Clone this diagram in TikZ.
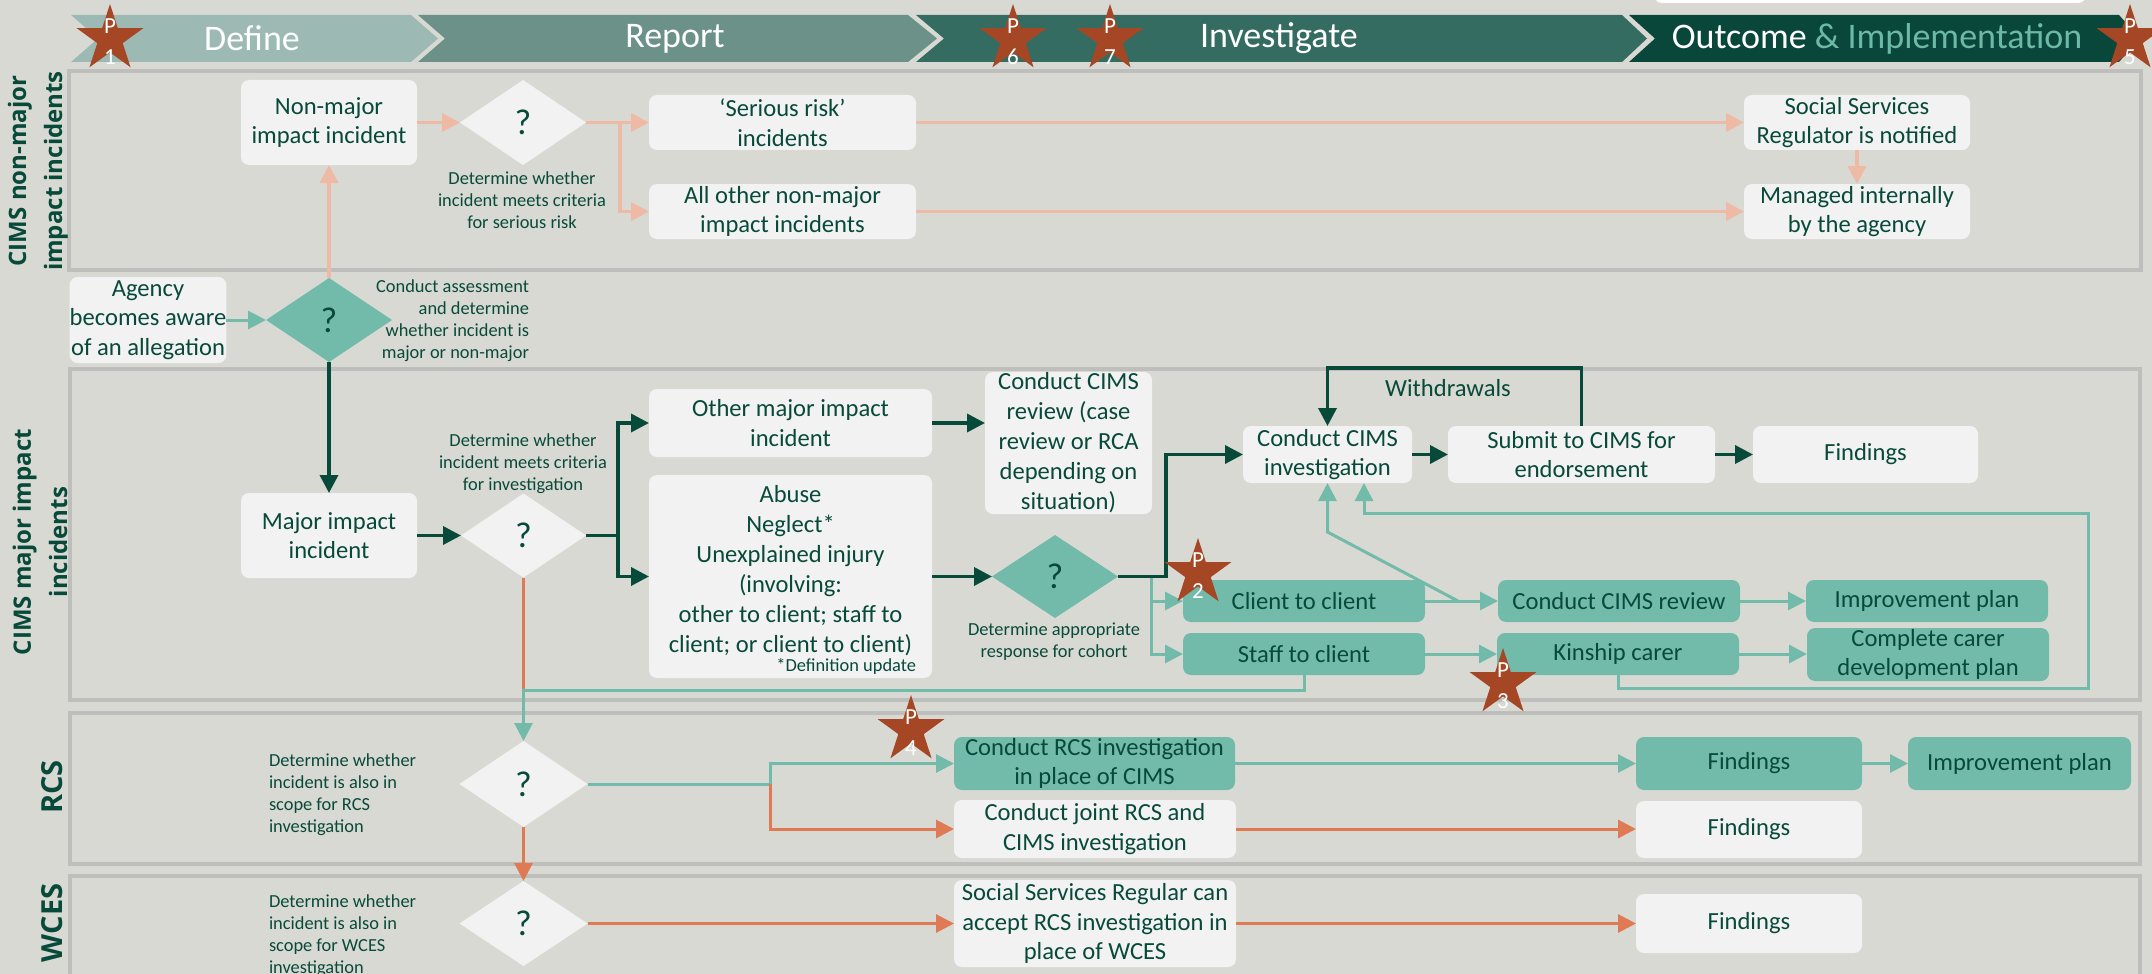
\documentclass[tikz,border=0pt]{standalone}
\usepackage{fontspec}
\setmainfont{Carlito}
\newfontfamily\lanefont{Open Sans}
\usetikzlibrary{shapes.geometric,arrows.meta}
\definecolor{bgc}{RGB}{217,217,212}
\definecolor{laneb}{RGB}{190,190,188}
\definecolor{wfill}{RGB}{242,242,242}
\definecolor{tealc}{RGB}{114,186,169}
\definecolor{dkg}{RGB}{8,74,58}
\definecolor{salm}{RGB}{238,186,166}
\definecolor{orng}{RGB}{224,122,84}
\definecolor{starc}{RGB}{165,70,36}
\definecolor{chA}{RGB}{156,185,179}
\definecolor{chB}{RGB}{107,145,136}
\definecolor{chC}{RGB}{53,108,97}
\definecolor{chD}{RGB}{8,71,58}
\definecolor{implc}{RGB}{109,184,166}
\newcommand\mybox[7]{\node[#2, minimum width={(#5-#3)*0.5pt}, minimum height={(#6-#4)*0.5pt}] (#1) at ({(#3+#5)/2},{(#4+#6)/2}) {#7};}
\newcommand\mydia[6]{\node[#2, minimum width={#5*0.5pt}, minimum height={#6*0.5pt}] (#1) at (#3,#4) {?};}
\newcommand\mystar[4]{\node[starshape] (#1) at (#2,#3) {}; \node[startext] (#1t) at (#2,{#3+2.5}) {P\\#4};}
\tikzset{
  every node/.style={outer sep=0pt},
  wbox/.style={rectangle, rounded corners=4pt, fill=wfill, text=dkg, align=center, inner sep=0pt, font=\fontsize{12.3}{14.8}\selectfont},
  tbox/.style={wbox, fill=tealc},
  wdia/.style={diamond, fill=wfill, text=dkg, inner sep=0pt, font=\fontsize{18}{20}\selectfont},
  tdia/.style={wdia, fill=tealc},
  lbl/.style={text=dkg, font=\fontsize{9.2}{11}\selectfont, inner sep=0pt},
  lanebox/.style={draw=laneb, line width=1.6pt},
  lanelbl/.style={text=dkg, font=\lanefont\bfseries\fontsize{12}{18}\selectfont, rotate=90, align=center, inner sep=0pt},
  hdr/.style={text=white, font=\fontsize{18}{20}\selectfont, inner sep=0pt},
  starshape/.style={star, star points=5, star point ratio=2.618, fill=starc, minimum size=35pt, inner sep=0pt},
  startext/.style={text=white, align=center, font=\fontsize{11.5}{15.5}\selectfont, inner sep=0pt},
  tip/.style={-{Triangle[length=9pt,width=9pt]}},
  sline/.style={draw=salm, line width=1.9pt},
  dline/.style={draw=dkg, line width=1.8pt},
  tline/.style={draw=tealc, line width=1.5pt},
  oline/.style={draw=orng, line width=1.5pt},
}
\begin{document}
\begin{tikzpicture}[x=0.5pt,y=-0.5pt]
\useasboundingbox (0,0) rectangle (2152,974);
\fill[bgc] (0,0) rectangle (2152,974);
\fill[white, rounded corners=4pt] (1654,-20) rectangle (2086,3);
% chevrons
\fill[chA] (71,15) -- (411,15) -- (438,38.5) -- (411,62) -- (71,62) -- (98,38.5) -- cycle;
\fill[chB] (418,15) -- (908,15) -- (937,38.5) -- (908,62) -- (418,62) -- (445,38.5) -- cycle;
\fill[chC] (916,15) -- (1622,15) -- (1647,38.5) -- (1622,62) -- (916,62) -- (944,38.5) -- cycle;
\fill[chD] (1629,15) -- (2119,15) -- (2140,38.5) -- (2119,62) -- (1629,62) -- (1655,38.5) -- cycle;
\node[hdr] (hdefine) at (252,38.5) {Define};
\node[hdr] (hreport) at (675,38.5) {Report};
\node[hdr] (hinv) at (1279,38.5) {Investigate};
\node[hdr] (hout) at (1877,38.5) {Outcome \textcolor{implc}{\& Implementation}};
% lanes
\draw[lanebox] (69,71) rectangle (2141,270);
\draw[lanebox] (70,369) rectangle (2140,700);
\draw[lanebox] (70,713) rectangle (2140,864);
\draw[lanebox] (70,876) rectangle (2140,985);
\node[lanelbl] (ll1) at (38,171) {CIMS non-major\\impact incidents};
\node[lanelbl] (ll2) at (40,542) {CIMS major impact\\incidents};
\node[lanelbl, font=\lanefont\bfseries\fontsize{14.5}{18}\selectfont] (ll3) at (52.5,787) {RCS};
\node[lanelbl, font=\lanefont\bfseries\fontsize{14.5}{18}\selectfont] (ll4) at (52.5,923) {WCES};
% lane 1
\mybox{nonmajor}{wbox}{241}{80}{417}{165}{Non-major\\impact incident}
\mydia{d1}{wdia}{523}{122.5}{126}{85}
\node[lbl, align=center] (lb1) at (522,200) {Determine whether\\incident meets criteria\\for serious risk};
\mybox{serious}{wbox}{649}{95}{916}{150}{‘Serious risk’\\incidents}
\mybox{allother}{wbox}{649}{184}{916}{239}{All other non-major\\impact incidents}
\mybox{ssr}{wbox}{1744}{95}{1970}{150}{Social Services\\Regulator is notified}
\mybox{managed}{wbox}{1744}{184}{1970}{239}{Managed internally\\by the agency}
\mybox{agency}{wbox}{71}{277}{225}{363}{Agency\\becomes aware\\of an allegation}
\mydia{d0}{tdia}{329}{320}{126}{84}
\node[lbl, align=right, anchor=east] (lb0) at (529,321) {Conduct assessment\\and determine\\whether incident is\\major or non-major};
% lane 2
\mybox{major}{wbox}{241}{493}{417}{578}{Major impact\\incident}
\mydia{d2}{wdia}{523.5}{535.5}{125}{84}
\node[lbl, align=center] (lb2) at (523,464) {Determine whether\\incident meets criteria\\for investigation};
\mybox{other}{wbox}{649}{389}{932}{457}{Other major impact\\incident}
\mybox{abuse}{wbox}{649}{475}{932}{678}{}
\node[wbox, fill=none, font=\fontsize{12.3}{15}\selectfont] (abusetxt) at (790.5,571) {Abuse\\Neglect*\\Unexplained injury\\(involving:\\other to client; staff to\\client; or client to client)};
\node[lbl, anchor=east] (defupd) at (916,666) {*Definition update};
\mybox{review}{wbox, font=\fontsize{12.3}{15}\selectfont}{985}{372}{1152}{514}{Conduct CIMS\\review (case\\review or RCA\\depending on\\situation)}
\mydia{d3}{tdia}{1055}{576.5}{126}{83}
\node[lbl, align=center] (lb3) at (1054,642) {Determine appropriate\\response for cohort};
\mybox{c2c}{tbox}{1183}{580}{1425}{622}{Client to client}
\mybox{s2c}{tbox}{1183}{633}{1425}{675}{Staff to client}
\mybox{inv}{wbox}{1243}{426}{1412}{483}{Conduct CIMS\\investigation}
\mybox{submit}{wbox}{1448}{426}{1715}{483}{Submit to CIMS for\\endorsement}
\mybox{find1}{wbox}{1753}{426}{1978}{483}{Findings}
\node[lbl, font=\fontsize{12.3}{14.8}\selectfont] (wd) at (1448,388) {Withdrawals};
\mybox{crev}{tbox}{1498}{580}{1740}{622}{Conduct CIMS review}
\mybox{imp1}{tbox}{1806}{580}{2048}{622}{Improvement plan}
\mybox{kin}{tbox}{1497}{633}{1739}{675}{Kinship carer}
\mybox{carer}{tbox}{1807}{628}{2049}{681}{Complete carer\\development plan}
% lane 3
\mydia{d4}{wdia}{523.5}{784}{128}{86}
\node[lbl, align=left, anchor=west] (lb4) at (269,795) {Determine whether\\incident is also in\\scope for RCS\\investigation};
\mybox{rcsinv}{tbox}{954}{737}{1235}{790}{Conduct RCS investigation\\in place of CIMS}
\mybox{joint}{wbox}{954}{800}{1236}{858}{Conduct joint RCS and\\CIMS investigation}
\mybox{rfind}{tbox}{1636}{737}{1862}{790}{Findings}
\mybox{rimp}{tbox}{1908}{737}{2131}{790}{Improvement plan}
\mybox{jfind}{wbox}{1636}{801}{1862}{858}{Findings}
% lane 4
\mydia{d5}{wdia}{523.5}{923.5}{128}{85}
\node[lbl, align=left, anchor=west] (lb5) at (269,935.5) {Determine whether\\incident is also in\\scope for WCES\\investigation};
\mybox{ssrc}{wbox}{954}{880}{1236}{967}{Social Services Regular can\\accept RCS investigation in\\place of WCES}
\mybox{wfind}{wbox}{1636}{894}{1862}{953}{Findings}
% coordinates
\coordinate (b1) at (620,122.5);
\coordinate (b2) at (618,535.5);
\coordinate (b3) at (1166,576.5);
\coordinate (b4) at (1151,576.5);
\coordinate (w1) at (1327.5,368);
\coordinate (j1) at (1458,601);
\coordinate (j1b) at (1327.5,532);
\coordinate (k1) at (1618,688);
\coordinate (k2) at (2088,688);
\coordinate (k3) at (2088,513);
\coordinate (j3) at (1364,513);
\coordinate (j4) at (523.5,690);
\coordinate (j2) at (770,784);
% lane 1 connectors
\draw[sline,tip] (d0.north) -- (nonmajor.south);
\draw[sline,tip] (nonmajor.east) -- (d1.west);
\draw[sline,tip] (d1.east) -- (serious.west);
\draw[sline,tip] (b1) |- (allother.west);
\draw[sline,tip] (serious.east) -- (ssr.west);
\draw[sline,tip] (allother.east) -- (managed.west);
\draw[sline,tip] (ssr.south) -- (managed.north);
% lane 2 connectors
\draw[tline,tip] (agency.east) -- (d0.west);
\draw[dline,tip] (d0.south) -- (major.north);
\draw[dline,tip] (major.east) -- (d2.west);
\draw[dline] (d2.east) -- (b2);
\draw[dline,tip] (b2) |- (other.west);
\draw[dline,tip] (b2) |- (abuse.west);
\draw[dline,tip] (other.east) -- (other.east -| review.west);
\draw[dline,tip] (abuse.east) -- (d3.west);
\draw[tline,tip] (b4) |- (c2c.west);
\draw[tline,tip] (b4) |- (s2c.west);
\draw[dline,tip] (d3.east) -- (b3) |- (inv.west);
\draw[dline,tip] (inv.east) -- (submit.west);
\draw[dline,tip] (submit.east) -- (find1.west);
\draw[dline,tip] (submit.north) |- (w1) -- (inv.north);
\draw[tline,tip] (c2c.east) -- (crev.west);
\draw[tline,tip] (crev.east) -- (imp1.west);
\draw[tline,tip] (s2c.east) -- (kin.west);
\draw[tline,tip] (kin.east) -- (kin.east -| carer.west);
\draw[tline,tip] (j1) -- (j1b) -- (inv.south);
\draw[tline,tip] (kin.south) -- (k1) -- (k2) -- (k3) -- (j3) -- (j3 |- inv.south);
\draw[oline] (d2.south) -- (j4);
\draw[tline,tip] (s2c.south) |- (j4) -- (d4.north);
% lane 3/4 connectors
\draw[tline] (d4.east) -- (j2);
\draw[tline,tip] (j2) |- (rcsinv.west);
\draw[oline,tip] (j2) |- (joint.west);
\draw[tline,tip] (rcsinv.east) -- (rfind.west);
\draw[tline,tip] (rfind.east) -- (rimp.west);
\draw[oline,tip] (joint.east) -- (joint.east -| jfind.west);
\draw[oline,tip] (d4.south) -- (d5.north);
\draw[oline,tip] (d5.east) -- (ssrc.west);
\draw[oline,tip] (ssrc.east) -- (wfind.west);
% stars
\mystar{s1}{110}{39}{1}
\mystar{s6}{1013}{39}{6}
\mystar{s7}{1110}{39}{7}
\mystar{s5}{2130}{39}{5}
\mystar{s2}{1198}{573}{2}
\mystar{s3}{1503}{683}{3}
\mystar{s4}{911}{730}{4}
\end{tikzpicture}
\end{document}
